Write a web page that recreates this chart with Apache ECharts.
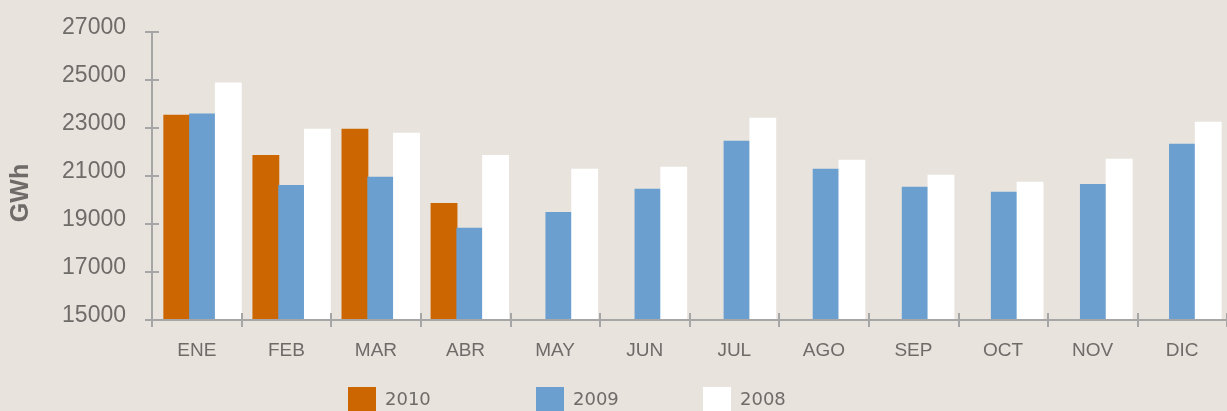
<!DOCTYPE html>
<html>
<head>
<meta charset="utf-8">
<script src="https://cdn.jsdelivr.net/npm/echarts@6/dist/echarts.min.js"></script>
<style>
  html, body { margin: 0; padding: 0; background: #e9e3dd; }
  #chart { width: 1227px; height: 411px; }
</style>
</head>
<body>
<div id="chart"></div>
<script>
var months = ['ENE', 'FEB', 'MAR', 'ABR', 'MAY', 'JUN', 'JUL', 'AGO', 'SEP', 'OCT', 'NOV', 'DIC'];
var yMin = 15000, yMax = 27000, yStep = 2000;
var years = ['2010', '2009', '2008'];
var data2010 = [23550, 21880, 22970, 19880, null, null, null, null, null, null, null, null];
var data2009 = [23600, 20630, 20970, 18840, 19505, 20465, 22470, 21300, 20550, 20340, 20670, 22340];
var data2008 = [24900, 22970, 22800, 21880, 21300, 21385, 23430, 21675, 21050, 20760, 21720, 23260];

var gray = '#a6a6a6';
var txt = '#6e6b69';

var chart = echarts.init(document.getElementById('chart'));

var grids = [
  { left: 152, right: -10, top: 32, bottom: 91 },   // axes, outer ticks
  { left: 152, right: -10, top: 32, bottom: 91 },   // inner ticks
  { left: 158, right: -16, top: 32, bottom: 91 }    // bars
];

function legendFor(name, x) {
  return {
    data: [name],
    left: x,
    top: 387,
    padding: 0,
    icon: 'rect',
    itemWidth: 28,
    itemHeight: 26,
    selectedMode: false,
    textStyle: { color: txt, fontSize: 18, fontFamily: 'DejaVu Sans', padding: [0, 0, 0, 4] }
  };
}

function barSeries(name, data, color) {
  return {
    name: name, type: 'bar', xAxisIndex: 2, yAxisIndex: 2,
    data: data,
    itemStyle: { color: color, borderWidth: 0 },
    barGap: '-4%', barCategoryGap: '12%'
  };
}

var option = {
  backgroundColor: '#e9e3dd',
  animation: false,
  grid: grids,
  legend: [legendFor(years[0], 348), legendFor(years[1], 536), legendFor(years[2], 703)],
  graphic: [{
    type: 'text',
    x: 21,
    y: 193,
    rotation: Math.PI / 2,
    style: {
      text: 'GWh',
      fill: txt,
      font: 'bold 25px "Liberation Sans"',
      textAlign: 'center',
      textVerticalAlign: 'middle'
    }
  }],
  xAxis: [{
    gridIndex: 0,
    type: 'category',
    data: months,
    z: 5,
    axisLine: { lineStyle: { color: gray, width: 2 } },
    axisTick: { show: true, length: 7, lineStyle: { color: gray, width: 2 } },
    axisLabel: { color: txt, fontSize: 19, fontFamily: 'Liberation Sans', margin: 21 },
    splitLine: { show: false }
  }, {
    gridIndex: 1,
    type: 'category',
    data: months,
    z: 5,
    axisLine: { show: false },
    axisTick: { show: true, inside: true, length: 7, lineStyle: { color: gray, width: 2 } },
    axisLabel: { show: false },
    splitLine: { show: false }
  }, {
    gridIndex: 2,
    type: 'category',
    data: months,
    show: false
  }],
  yAxis: [{
    gridIndex: 0,
    type: 'value',
    min: yMin, max: yMax, interval: yStep,
    z: 5,
    axisLine: { show: true, lineStyle: { color: gray, width: 2 } },
    axisTick: { show: true, length: 7, lineStyle: { color: gray, width: 2 } },
    axisLabel: {
      color: txt, fontSize: 23, fontFamily: 'Liberation Sans', margin: 26,
      verticalAlign: 'bottom', lineHeight: 8,
      formatter: function (v) { return String(v); }
    },
    splitLine: { show: false }
  }, {
    gridIndex: 1,
    type: 'value',
    min: yMin, max: yMax, interval: yStep,
    z: 5,
    axisLine: { show: false },
    axisTick: { show: true, inside: true, length: 7, lineStyle: { color: gray, width: 2 } },
    axisLabel: { show: false },
    splitLine: { show: false }
  }, {
    gridIndex: 2,
    type: 'value',
    min: yMin, max: yMax,
    show: false
  }],
  series: [
    barSeries(years[0], data2010, '#cc6600'),
    barSeries(years[1], data2009, '#6a9fcf'),
    barSeries(years[2], data2008, '#ffffff')
  ]
};

chart.setOption(option);
</script>
</body>
</html>
